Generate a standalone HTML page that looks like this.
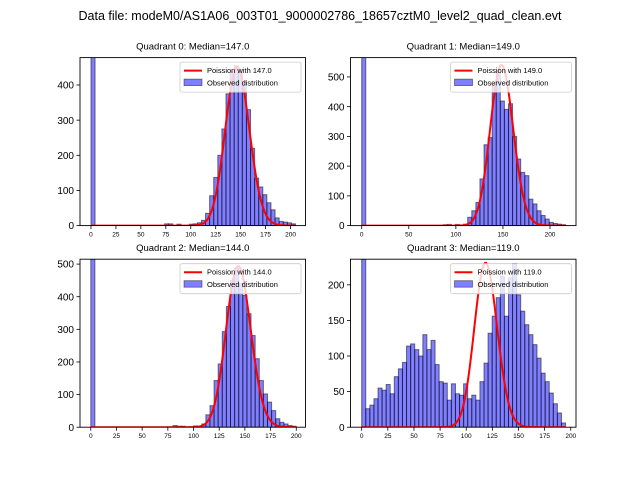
<!DOCTYPE html>
<html><head><meta charset="utf-8"><style>
html,body{margin:0;padding:0;background:#fff;}
svg{display:block;font-family:"Liberation Sans","DejaVu Sans",sans-serif;}
</style></head><body>
<svg id="fig" width="640" height="480" viewBox="0 0 640 480" xmlns="http://www.w3.org/2000/svg">
<text x="320" y="20" text-anchor="middle" font-size="12.5" fill="#000">Data file: modeM0/AS1A06_003T01_9000002786_18657cztM0_level2_quad_clean.evt</text>
</svg>
<script>
const counts_q0 = [5000,0,0,0,0,0,0,0,0,0,0,0,0,0,0,0,0,0,5,5,0,4,0,0,4,5,8,15,35,85,137,200,275,375,440,455,445,410,330,220,135,110,88,65,45,22,12,10,8,5];
const counts_q1 = [5000,0,0,0,0,0,0,0,0,0,0,0,0,0,0,0,0,0,0,0,3,4,0,4,2,5,28,50,78,157,272,296,475,515,419,391,410,300,224,179,168,89,73,50,34,22,11,7,5,3];
const counts_q2 = [5000,0,0,0,0,0,0,0,0,0,0,0,0,0,0,0,0,0,0,0,5,3,3,0,0,4,3,10,38,66,143,194,293,370,450,486,440,404,348,281,210,143,102,77,51,26,15,10,5,3];
const counts_q3 = [5000,26,31,40,55,52,60,47,71,82,91,114,117,109,100,130,109,122,88,64,62,38,61,47,45,61,40,45,38,64,90,132,156,182,212,156,210,230,186,163,144,130,116,97,76,64,48,33,20,6];
const binWidths = [4.1,4.33,4.0,3.9];
const medians = [147.0,149.0,144.0,119.0];
const poissonTotals = [13700,16520,14860,6316];
const xTicks_q0 = [0,25,50,75,100,125,150,175,200];
const xTicks_q1 = [0,50,100,150,200];
const xTicks_q2 = [0,25,50,75,100,125,150,175,200];
const xTicks_q3 = [0,25,50,75,100,125,150,175,200];
const yTicks_q0 = [0,100,200,300,400];
const yTicks_q1 = [0,100,200,300,400,500];
const yTicks_q2 = [0,100,200,300,400,500];
const yTicks_q3 = [0,50,100,150,200];
const xLims = [[-11,215],[-11.9,227.6],[-10.5,209],[-10.7,205]];
const yMaxs = [478,565,515,236];

const NS="http://www.w3.org/2000/svg";
const svg=document.getElementById('fig');
function el(tag,attrs,parent){const e=document.createElementNS(NS,tag);for(const k in attrs)e.setAttribute(k,attrs[k]);(parent||svg).appendChild(e);return e;}
const boxes=[{x:80,y:57.6,w:225.5,h:168},{x:350.5,y:57.6,w:225.5,h:168},{x:80,y:259.2,w:225.5,h:168},{x:350.5,y:259.2,w:225.5,h:168}];
const allCounts=[counts_q0,counts_q1,counts_q2,counts_q3];
const allX=[xTicks_q0,xTicks_q1,xTicks_q2,xTicks_q3];
const allY=[yTicks_q0,yTicks_q1,yTicks_q2,yTicks_q3];
function lnFact(k){let s=0;for(let i=2;i<=k;i++)s+=Math.log(i);return s;}

for(let q=0;q<4;q++){
  const b=boxes[q],[x0,x1]=xLims[q],ym=yMaxs[q];
  const sx=v=>b.x+(v-x0)/(x1-x0)*b.w;
  const sy=v=>b.y+b.h-v/ym*b.h;
  const g=el('g',{});
  
  
  const cp=el('clipPath',{id:'cp'+q},g);
  el('rect',{x:b.x,y:b.y,width:b.w,height:b.h},cp);
  const bars=el('g',{'clip-path':'url(#cp'+q+')'},g);
  const c=allCounts[q],w=binWidths[q];
  for(let i=0;i<c.length;i++){
    if(c[i]<=0)continue;
    const r=el('rect',{x:sx(i*w),y:sy(c[i]),width:sx((i+1)*w)-sx(i*w),height:sy(0)-sy(c[i]),fill:'rgba(0,0,255,0.5)',stroke:'rgba(0,0,0,0.5)','stroke-width':1},bars);
    
    
  }
  const m=medians[q],N=poissonTotals[q],kmax=Math.ceil(c.length*w);
  let d='';
  for(let k=0;k<=kmax;k++){const p=Math.exp(k*Math.log(m)-m-lnFact(k));d+=(k?'L':'M')+sx(k).toFixed(2)+' '+sy(N*p).toFixed(2);}
  const pl=el('path',{d:d,fill:'none',stroke:'#ff0000','stroke-width':2},bars);
  
  
  el('rect',{x:b.x,y:b.y,width:b.w,height:b.h,fill:'none',stroke:'#000','stroke-width':0.9},g);
  for(const t of allX[q]){
    const X=sx(t);
    el('line',{x1:X,x2:X,y1:b.y+b.h,y2:b.y+b.h+3.5,stroke:'#000','stroke-width':0.8},g);
    const tx=el('text',{x:X,y:b.y+b.h+11,'text-anchor':'middle','font-size':6.5},g);
    tx.textContent=t;
    
    
  }
  for(const t of allY[q]){
    const Y=sy(t);
    el('line',{x1:b.x-3.5,x2:b.x,y1:Y,y2:Y,stroke:'#000','stroke-width':0.8},g);
    const ty=el('text',{x:b.x-6,y:Y+3.6,'text-anchor':'end','font-size':10},g);
    ty.textContent=t;
    
    
  }
  const tt=el('text',{x:b.x+b.w/2,y:b.y-8,'text-anchor':'middle','font-size':9.5},g);
  tt.textContent='Quadrant '+q+': Median='+m.toFixed(1);
  
  
  const lx=b.x+b.w-125.5,ly=b.y+4.5;
  const lg=el('g',{},g);
  
  
  el('rect',{x:lx,y:ly,width:121,height:30,rx:2,fill:'rgba(255,255,255,0.8)',stroke:'#cccccc','stroke-width':0.8},lg);
  el('line',{x1:lx+4,x2:lx+22,y1:ly+8.5,y2:ly+8.5,stroke:'#ff0000','stroke-width':2},lg);
  const t1=el('text',{x:lx+27,y:ly+11,'font-size':7.5},lg);
  t1.textContent='Poission with '+m.toFixed(1);
  
  
  el('rect',{x:lx+4,y:ly+17,width:18,height:6.5,fill:'rgba(0,0,255,0.5)',stroke:'rgba(0,0,0,0.5)','stroke-width':0.8},lg);
  const t2=el('text',{x:lx+27,y:ly+23.5,'font-size':7.5},lg);
  t2.textContent='Observed distribution';
  
  
}
</script>
</body></html>
